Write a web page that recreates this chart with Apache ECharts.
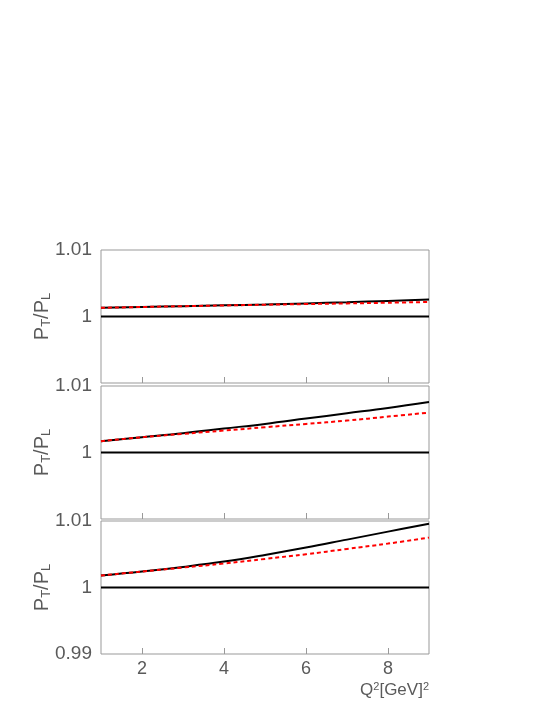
<!DOCTYPE html>
<html>
<head>
<meta charset="utf-8">
<script src="https://cdn.jsdelivr.net/npm/echarts@6/dist/echarts.min.js"></script>
<style>
  html, body { margin: 0; padding: 0; background: #fff; }
</style>
</head>
<body>
<div id="chart" style="width: 545px; height: 705px"></div>
<script>
// Q^2 values (GeV^2)
var q2 = [1, 2, 3, 4, 5, 6, 7, 8, 9]
var unity = [1, 1, 1, 1, 1, 1, 1, 1, 1]

// panel 1 (top)
var topBlack = [1.0013, 1.00143, 1.00156, 1.00168, 1.00182, 1.00197, 1.00214, 1.00234, 1.00255]
var topRed   = [1.0013, 1.00143, 1.00155, 1.00166, 1.00177, 1.00187, 1.00197, 1.00207, 1.00218]

// panel 2 (middle)
var midBlack = [1.0017, 1.0023, 1.0029, 1.0036, 1.0043, 1.0051, 1.0059, 1.0067, 1.0076]
var midRed   = [1.0017, 1.0023, 1.0028, 1.0033, 1.0038, 1.0043, 1.0048, 1.0054, 1.0060]

// panel 3 (bottom)
var botBlack = [1.0018, 1.0024, 1.0031, 1.0039, 1.0049, 1.0060, 1.0072, 1.0084, 1.0096]
var botRed   = [1.0018, 1.0024, 1.0030, 1.0036, 1.0043, 1.0050, 1.0058, 1.0066, 1.0075]

var xTicks = [2, 4, 6, 8]
var yTicksTop = [1, 1.01]
var yTicksBottom = [0.99, 1, 1.01]

var chart = echarts.init(document.getElementById('chart'))

var font = 'Liberation Sans, Arial, sans-serif'
var grey = '#5a5a5a'
var frame = '#999'

function pairs(ys) {
  return q2.map(function (x, i) { return [x, ys[i]] })
}

var tops = [250, 386, 521]
var grids = tops.map(function (t) {
  return { left: 101, width: 328, top: t, height: 133, show: true, borderColor: frame, borderWidth: 1, backgroundColor: 'transparent' }
})

var xAxes = [0, 1, 2].map(function (i) {
  var last = i === 2
  return {
    type: 'value', gridIndex: i, min: 1, max: 9,
    splitLine: { show: false },
    axisLine: { show: false },
    axisTick: { show: true, inside: true, length: 6, customValues: xTicks, lineStyle: { color: frame } },
    axisLabel: {
      show: last, customValues: xTicks, margin: 6,
      color: grey, fontSize: 18, fontFamily: font
    },
    name: last ? 'Q{sup|2}[GeV]{sup|2}' : '',
    nameLocation: 'end',
    nameGap: 0,
    nameMoveOverlap: false,
    nameTextStyle: {
      align: 'right', verticalAlign: 'top', padding: [27, 0, 0, 0],
      color: grey, fontSize: 17, fontFamily: font,
      rich: { sup: { fontSize: 11, color: grey, fontFamily: font, verticalAlign: 'top', padding: [0, 0, 8, 0] } }
    }
  }
})

var yAxes = [0, 1, 2].map(function (i) {
  return {
    type: 'value', gridIndex: i, min: 0.99, max: 1.01,
    splitLine: { show: false },
    axisLine: { show: false },
    axisTick: { show: false },
    axisLabel: {
      customValues: i === 2 ? yTicksBottom : yTicksTop,
      margin: 9, color: grey, fontSize: 19, fontFamily: font,
      formatter: function (v) { return String(+v.toFixed(2)) }
    },
    name: 'P{sub|T}/P{sub|L}',
    nameLocation: 'middle',
    nameRotate: 90,
    nameGap: 48,
    nameMoveOverlap: false,
    nameTextStyle: {
      color: grey, fontSize: 20, fontFamily: font,
      rich: { sub: { fontSize: 13, color: grey, fontFamily: font, padding: [9, 0, 0, 0] } }
    }
  }
})

var panels = [[topBlack, topRed], [midBlack, midRed], [botBlack, botRed]]
var series = []
panels.forEach(function (p, i) {
  series.push({
    type: 'line', xAxisIndex: i, yAxisIndex: i, data: pairs(unity),
    symbol: 'none', lineStyle: { color: '#000', width: 2 }, z: 2
  })
  series.push({
    type: 'line', xAxisIndex: i, yAxisIndex: i, data: pairs(p[0]), smooth: 0.4,
    symbol: 'none', lineStyle: { color: '#000', width: 2 }, z: 3
  })
  series.push({
    type: 'line', xAxisIndex: i, yAxisIndex: i, data: pairs(p[1]), smooth: 0.4,
    symbol: 'none', lineStyle: { color: '#ff0000', width: 2, type: [4, 3] }, z: 4
  })
})

chart.setOption({
  animation: false,
  backgroundColor: '#fff',
  grid: grids,
  xAxis: xAxes,
  yAxis: yAxes,
  series: series
})
</script>
</body>
</html>
